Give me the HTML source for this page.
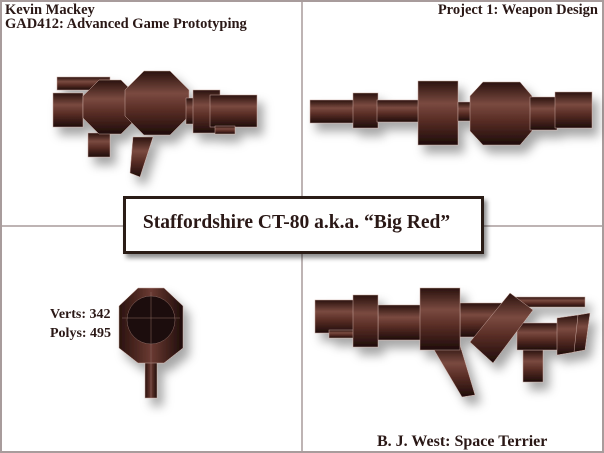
<!DOCTYPE html>
<html><head><meta charset="utf-8"><style>
html,body{margin:0;padding:0;background:#fff}
#c{position:relative;width:604px;height:453px;overflow:hidden;background:#fff;font-family:"Liberation Serif",serif;color:#2a1816}
.t{position:absolute;font-weight:bold;white-space:nowrap;line-height:1}
</style></head><body><div id="c">
<svg width="604" height="453" style="position:absolute;left:0;top:0">
<defs>
<linearGradient id="g" x1="0" y1="0" x2="0" y2="1">
<stop offset="0" stop-color="#2a120e"/><stop offset="0.35" stop-color="#7a4a40"/><stop offset="0.6" stop-color="#5a2e26"/><stop offset="1" stop-color="#1e0c0a"/></linearGradient>
<linearGradient id="g2" x1="0" y1="0" x2="1" y2="0">
<stop offset="0" stop-color="#2a120e"/><stop offset="0.5" stop-color="#6a3a32"/><stop offset="1" stop-color="#1e0c0a"/></linearGradient>
<filter id="s" x="-20%" y="-20%" width="150%" height="160%"><feDropShadow dx="6" dy="8" stdDeviation="5" flood-color="#000" flood-opacity="0.35"/></filter>
<filter id="bs" x="-10%" y="-30%" width="130%" height="170%"><feDropShadow dx="3" dy="4" stdDeviation="2.5" flood-color="#000" flood-opacity="0.45"/></filter>
</defs>
<rect x="1" y="1" width="602" height="451" fill="none" stroke="#a89c9c" stroke-width="2"/>
<line x1="302" y1="0" x2="302" y2="453" stroke="#a89c9c" stroke-width="1.5"/>
<line x1="0" y1="226" x2="604" y2="226" stroke="#a89c9c" stroke-width="1.5"/>
<g filter="url(#s)" fill="url(#g)" stroke="#c9a8a0" stroke-width="0.5">
<rect x="57" y="77" width="53" height="13"/>
<rect x="53" y="93" width="30" height="34"/>
<polygon points="133,137 153,137 140,177 130,173"/>
<rect x="88" y="133" width="22" height="24"/>
<polygon points="99,80 121,80 137,96 137,118 121,134 99,134 83,118 83,96"/>
<polygon points="144,71 170,71 189,90 189,116 170,135 144,135 125,116 125,90"/>
<rect x="186" y="98" width="14" height="26"/>
<rect x="193" y="90" width="27" height="43"/>
<rect x="210" y="95" width="47" height="32"/>
<rect x="215" y="126" width="20" height="8"/>
</g>
<g filter="url(#s)" fill="url(#g)" stroke="#c9a8a0" stroke-width="0.5">
<rect x="310" y="100" width="45" height="23"/>
<rect x="353" y="93" width="25" height="35"/>
<rect x="377" y="100" width="42" height="22"/>
<rect x="418" y="81" width="40" height="64"/>
<rect x="458" y="102" width="14" height="19"/>
<polygon points="483,82 520,82 532,96 532,131 520,145 483,145 470,131 470,96"/>
<rect x="530" y="97" width="27" height="33"/>
<rect x="555" y="92" width="37" height="36"/>
</g>
<g filter="url(#s)" fill="url(#g2)" stroke="#c9a8a0" stroke-width="0.5">
<rect x="145" y="355" width="12" height="43"/>
<polygon points="138,288 164,288 183,306 183,348 164,363 138,363 119,348 119,306"/>
<circle cx="151" cy="320" r="24" fill="#1a0a08" stroke="#8a6a64"/>
<line x1="151" y1="292" x2="151" y2="398" stroke="#8a6a64"/>
<line x1="122" y1="318" x2="180" y2="318" stroke="#8a6a64"/>
</g>
<g filter="url(#s)" fill="url(#g)" stroke="#c9a8a0" stroke-width="0.5">
<rect x="513" y="297" width="72" height="10"/>
<rect x="315" y="300" width="40" height="33"/>
<rect x="329" y="330" width="26" height="8"/>
<rect x="378" y="305" width="44" height="35"/>
<rect x="460" y="303" width="45" height="34"/>
<polygon points="433,348 460,345 475,395 462,397"/>
<rect x="523" y="350" width="20" height="32"/>
<rect x="517" y="323" width="43" height="27"/>
<polygon points="557,318 578,315 575,352 557,355"/>
<polygon points="578,315 590,313 585,350 574,352"/>
<rect x="353" y="295" width="25" height="52"/>
<rect x="420" y="288" width="40" height="62"/>
<polygon points="470,342 510,293 533,310 493,363"/>
</g>
<rect x="124.5" y="197.5" width="358" height="55" fill="#fff" stroke="#2a1a18" stroke-width="3" filter="url(#bs)"/>
</svg>
<div class="t" style="left:5px;top:3px;font-size:14.5px">Kevin Mackey</div>
<div class="t" style="left:5px;top:17px;font-size:14.5px">GAD412: Advanced Game Prototyping</div>
<div class="t" style="right:6px;top:3px;font-size:14.5px">Project 1: Weapon Design</div>
<div class="t" style="left:50px;top:308px;font-size:14px">Verts: 342</div>
<div class="t" style="left:50px;top:327px;font-size:14px">Polys: 495</div>
<div class="t" style="left:377px;top:434px;font-size:16px">B. J. West: Space Terrier</div>
<div class="t" style="left:116px;width:361px;text-align:center;top:213px;font-size:19.5px">Staffordshire CT-80 a.k.a. “Big Red”</div>
</div></body></html>
